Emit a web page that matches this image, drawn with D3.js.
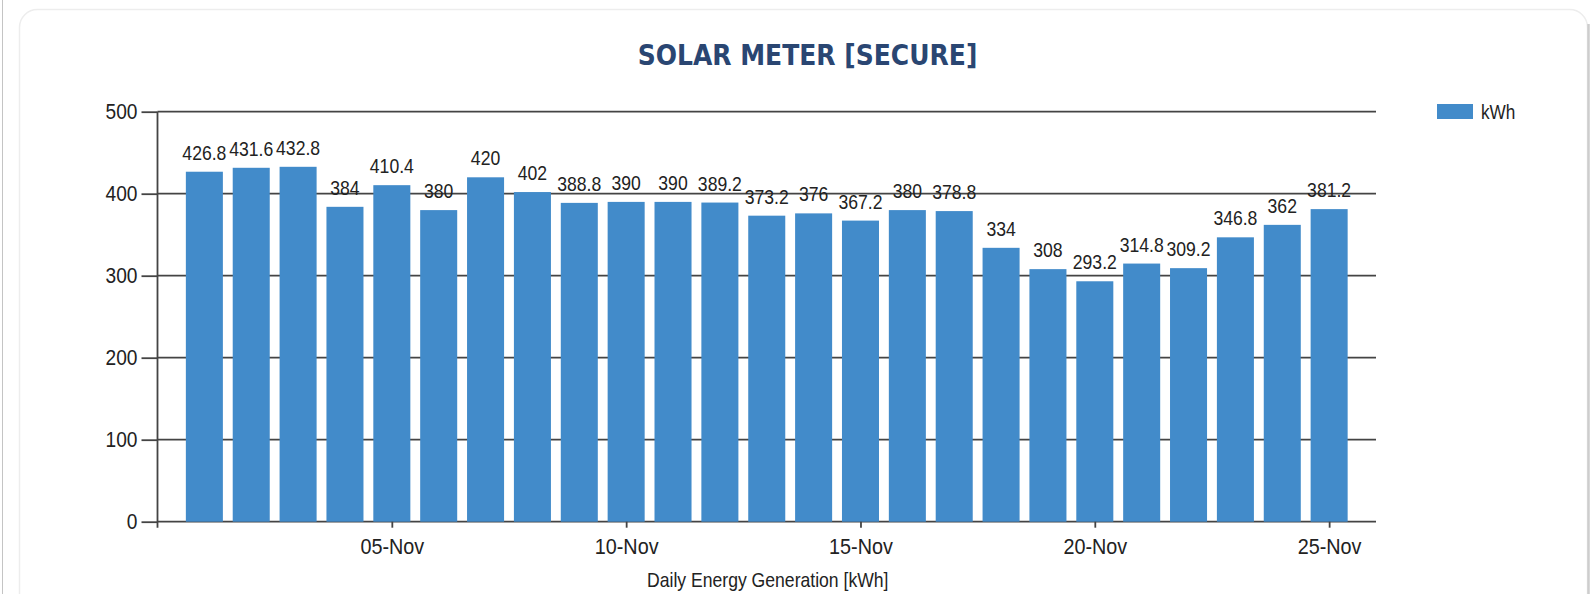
<!DOCTYPE html>
<html>
<head>
<meta charset="utf-8">
<script src="https://cdn.jsdelivr.net/npm/d3@7"></script>
<style>
body{margin:0;background:#fff;}
svg{display:block;font-family:"Liberation Sans",Arial,sans-serif;}
</style>
</head>
<body>
<svg id="chart" width="1594" height="594"></svg>
<script>
// data
const days=["2014-11-01","2014-11-02","2014-11-03","2014-11-04","2014-11-05","2014-11-06","2014-11-07",
  "2014-11-08","2014-11-09","2014-11-10","2014-11-11","2014-11-12","2014-11-13","2014-11-14","2014-11-15",
  "2014-11-16","2014-11-17","2014-11-18","2014-11-19","2014-11-20","2014-11-21","2014-11-22","2014-11-23",
  "2014-11-24","2014-11-25"];
const kwh=[426.8,431.6,432.8,384,410.4,380,420,402,388.8,390,390,389.2,373.2,376,367.2,380,378.8,334,308,293.2,314.8,309.2,346.8,362,381.2];
const yTicks=[0,100,200,300,400,500];
const xTicks=["2014-11-05","2014-11-10","2014-11-15","2014-11-20","2014-11-25"];
const seriesName="kWh";
const chartTitle="SOLAR METER [SECURE]";
const xTitle="Daily Energy Generation [kWh]";

const svg=d3.select("#chart");
const barColor="#428bca";
const gridColor="#444";

const parse=d3.utcParse("%Y-%m-%d");
const dates=days.map(parse);
const pLeft=157.5,pRight=1376,pTop=111.7,pBottom=521.7;

const x=d3.scaleUtc()
  .domain([d3.utcDay.offset(dates[0],-1),d3.utcDay.offset(dates[dates.length-1],1)])
  .range([pLeft,pRight]);
const y=d3.scaleLinear().domain([0,500]).range([pBottom,pTop]);
const step=x(dates[1])-x(dates[0]);
const bw=step*0.79;

// text in the picture is taller/narrower than the fonts here, so compress horizontally
function squeeze(sel,k){
  sel.each(function(){
    const t=d3.select(this);
    const x0=+t.attr("x")||0;
    t.attr("x",x0/k).attr("transform",`scale(${k},1)`);
  });
}

// page line + card
svg.append("line").attr("x1",2.5).attr("x2",2.5).attr("y1",0).attr("y2",594)
  .attr("stroke","#c4c4c4").attr("stroke-width",1);
svg.append("rect").attr("x",19.5).attr("y",9.5).attr("width",1568).attr("height",640)
  .attr("rx",18).attr("fill","#fff").attr("stroke","#ededed").attr("stroke-width",1.5);
svg.append("line").attr("x1",1588.5).attr("x2",1588.5).attr("y1",24).attr("y2",594)
  .attr("stroke","#cdcdcd").attr("stroke-width",2.5);

// title
const title=svg.append("text").attr("x",807.5).attr("y",65)
  .attr("text-anchor","middle").attr("font-family","'DejaVu Sans',Verdana,sans-serif")
  .attr("font-weight","bold").attr("font-size",27.5).attr("fill","#2a4672").text(chartTitle);
squeeze(title,0.91);

// grid lines
svg.append("g").selectAll("line").data(yTicks).join("line")
  .attr("x1",pLeft).attr("x2",pRight).attr("y1",d=>y(d)).attr("y2",d=>y(d))
  .attr("stroke",gridColor).attr("stroke-width",1.8);

// bars
svg.append("g").selectAll("rect").data(kwh).join("rect")
  .attr("x",(d,i)=>x(dates[i])-bw/2).attr("width",bw)
  .attr("y",d=>y(d)).attr("height",d=>y(0)-y(d))
  .attr("fill",barColor);

// value labels
const vals=svg.append("g").attr("font-size",20).attr("fill","#222")
  .selectAll("text").data(kwh).join("text")
  .attr("x",(d,i)=>x(dates[i])).attr("y",d=>y(d)-12)
  .attr("text-anchor","middle").text(d=>d);
squeeze(vals,0.88);

// y axis
const yAxis=svg.append("g").attr("transform",`translate(${pLeft},0)`)
  .call(d3.axisLeft(y).tickValues(yTicks).tickSize(16).tickPadding(4));
yAxis.select(".domain").remove();
yAxis.selectAll("line").attr("stroke",gridColor).attr("stroke-width",1.8);
yAxis.selectAll("text").attr("font-size",22).attr("fill","#222").attr("font-family","'Liberation Sans',Arial,sans-serif");
squeeze(yAxis.selectAll("text"),0.87);
svg.append("line").attr("x1",pLeft).attr("x2",pLeft).attr("y1",pTop).attr("y2",pBottom+6)
  .attr("stroke",gridColor).attr("stroke-width",1.8);

// x axis
const xAxis=svg.append("g").attr("transform",`translate(0,${pBottom})`)
  .call(d3.axisBottom(x).tickValues(xTicks.map(parse)).tickFormat(d3.utcFormat("%d-%b"))
    .tickSize(6).tickPadding(10.6));
xAxis.select(".domain").remove();
xAxis.selectAll("line").attr("stroke",gridColor).attr("stroke-width",1.8);
xAxis.selectAll("text").attr("font-size",22).attr("fill","#222").attr("font-family","'Liberation Sans',Arial,sans-serif");
squeeze(xAxis.selectAll("text"),0.9);

// axis title
const xt=svg.append("text").attr("x",(pLeft+pRight)/2+1).attr("y",587)
  .attr("text-anchor","middle").attr("font-size",20).attr("fill","#222").text(xTitle);
squeeze(xt,0.88);

// legend
svg.append("rect").attr("x",1437).attr("y",104).attr("width",36).attr("height",15).attr("fill",barColor);
const lg=svg.append("text").attr("x",1481).attr("y",119.5).attr("font-size",20).attr("fill","#222").text(seriesName);
squeeze(lg,0.86);
</script>
</body>
</html>
